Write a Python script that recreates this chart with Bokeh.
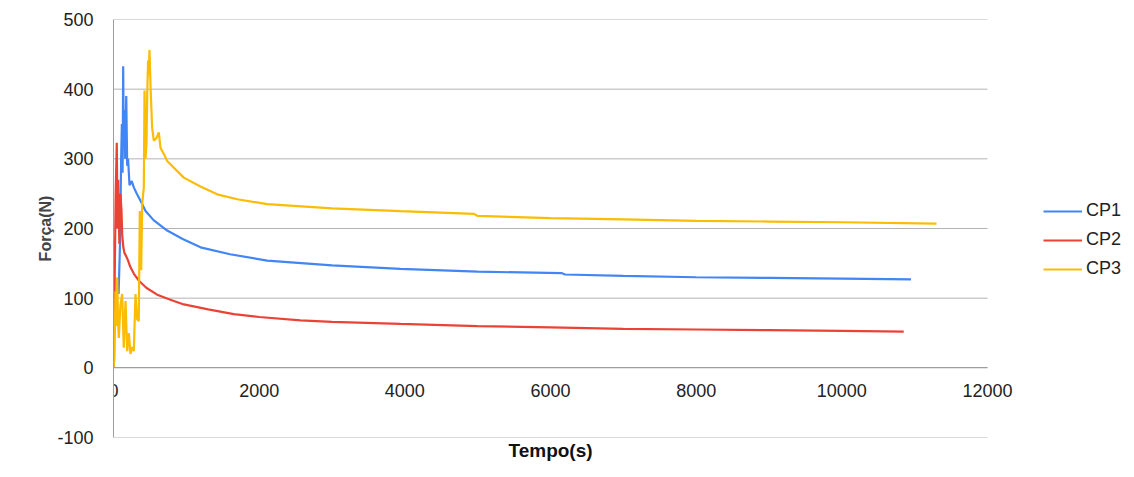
from bokeh.plotting import figure
from bokeh.models import LinearAxis, Legend, LegendItem, FixedTicker, Range1d, Title
from bokeh.embed import file_html
from bokeh.resources import INLINE

# ---- data ----
cp1_t = [70, 90, 105, 115, 125, 133, 140, 150, 160, 175, 188, 200, 220, 250, 279, 320, 380, 440,
         550, 737, 950, 1195, 1600, 2110, 3000, 3940, 5000, 6150, 6200, 7000, 8000, 9000, 10000, 10950]
cp1_f = [106, 180, 300, 350, 280, 433, 330, 370, 300, 390, 290, 300, 262, 268, 259, 250, 238, 225,
         212, 197, 185, 173, 163, 154, 147, 142, 138, 136, 134, 132, 130, 129, 128, 127]

cp2_t = [0, 15, 30, 45, 55, 65, 80, 95, 110, 120, 135, 150, 175, 200, 230, 280, 350, 450, 600, 800,
         966, 1300, 1652, 2000, 2568, 3000, 3941, 5000, 6000, 7000, 8000, 9000, 10000, 10850]
cp2_f = [0, 115, 250, 323, 200, 270, 178, 250, 225, 190, 173, 165, 160, 154, 145, 135, 125, 115, 105, 97,
         91, 84, 77, 73, 68, 66, 63, 60, 58, 56, 55, 54, 53, 52]

cp3_t = [0, 14, 27, 40, 51, 62, 73, 95, 119, 141, 165, 188, 210, 233, 255, 279, 302, 325, 347, 361,
         380, 394, 416, 426, 440, 453, 463, 475, 485, 494, 510, 530, 553, 590, 622, 645, 700, 737, 850,
         965, 1200, 1424, 1700, 2110, 3000, 3941, 4950, 5000, 6000, 7000, 8000, 9000, 10000, 11300]
cp3_f = [0, 15, 110, 60, 130, 70, 43, 90, 106, 29, 96, 24, 50, 20, 30, 24, 106, 70, 67, 225,
         140, 235, 259, 398, 300, 322, 393, 441, 420, 456, 400, 345, 326, 330, 338, 316, 305, 297, 285,
         273, 260, 249, 242, 235, 229, 225, 221, 218, 215, 213, 211, 210, 209, 207]

series_names = ["CP1", "CP2", "CP3"]
colors = ["#4285F4", "#EA4335", "#FBBC04"]
x_ticks = [0, 2000, 4000, 6000, 8000, 10000, 12000]
y_ticks = [-100, 0, 100, 200, 300, 400, 500]
x_min, x_max = 0, 12000

FONT = "Liberation Sans"

# frame spans x 113..1134 px; axis extent 0..12000 ends at 987 px
x_end = x_max * (1134 - 113) / (987 - 113)

p = figure(width=1134, height=477, output_backend="svg", toolbar_location=None,
           x_range=Range1d(x_min, x_end), y_range=Range1d(-100, 500),
           min_border_left=113, min_border_right=0, min_border_top=19, min_border_bottom=40,
           x_axis_location=None)
p.outline_line_color = None
p.background_fill_color = "white"
p.border_fill_color = "white"

# grid drawn as segments limited to the axis extent
p.xgrid.grid_line_color = None
p.ygrid.grid_line_color = None
p.multi_line(xs=[[x_min, x_max] for _ in y_ticks], ys=[[v, v] for v in y_ticks],
             line_color="#b3b3b3", line_width=1)

# y axis
p.yaxis.ticker = FixedTicker(ticks=y_ticks)
p.yaxis.major_label_overrides = {-100: "-100"}
p.yaxis.axis_label = "Força(N)"
p.yaxis.axis_label_text_font = FONT
p.yaxis.axis_label_text_font_style = "bold"
p.yaxis.axis_label_text_font_size = "16px"
p.yaxis.axis_label_standoff = 0
p.yaxis.major_label_text_font = FONT
p.yaxis.major_label_text_font_size = "18px"
p.yaxis.major_label_text_color = "#222222"
p.yaxis.major_tick_line_color = None
p.yaxis.minor_tick_line_color = None
p.yaxis.axis_line_color = "#9e9e9e"
p.yaxis.major_label_standoff = 14

# x axis with tick labels at y = 0
xa = LinearAxis(ticker=FixedTicker(ticks=x_ticks), fixed_location=0, bounds=(x_min, x_max))
xa.major_label_text_font = FONT
xa.major_label_text_font_size = "18px"
xa.major_label_text_color = "#222222"
xa.major_tick_line_color = None
xa.minor_tick_line_color = None
xa.axis_line_color = "#9e9e9e"
xa.major_label_standoff = 10
p.add_layout(xa, "below")

# x axis title, centred under the 0..12000 extent
xt = Title(text="Tempo(s)", align="left", offset=395,
           text_font=FONT, text_font_style="bold", text_font_size="19px",
           text_color="#111111", standoff=0)
p.add_layout(xt, "below")

items = []
for name, col, t, f in zip(series_names, colors, [cp1_t, cp2_t, cp3_t], [cp1_f, cp2_f, cp3_f]):
    r = p.line(t, f, line_color=col, line_width=2.2)
    items.append(LegendItem(label=name, renderers=[r]))

legend = Legend(items=items, location=(930, 158), orientation="vertical")
legend.label_text_font = FONT
legend.label_text_font_size = "18px"
legend.label_text_color = "#222222"
legend.glyph_width = 39
legend.glyph_height = 20
legend.label_standoff = 4
legend.spacing = 8
legend.padding = 10
legend.margin = 0
legend.border_line_color = None
legend.background_fill_alpha = 0
p.add_layout(legend, "center")

open("out.html", "w").write(file_html(p, INLINE))
